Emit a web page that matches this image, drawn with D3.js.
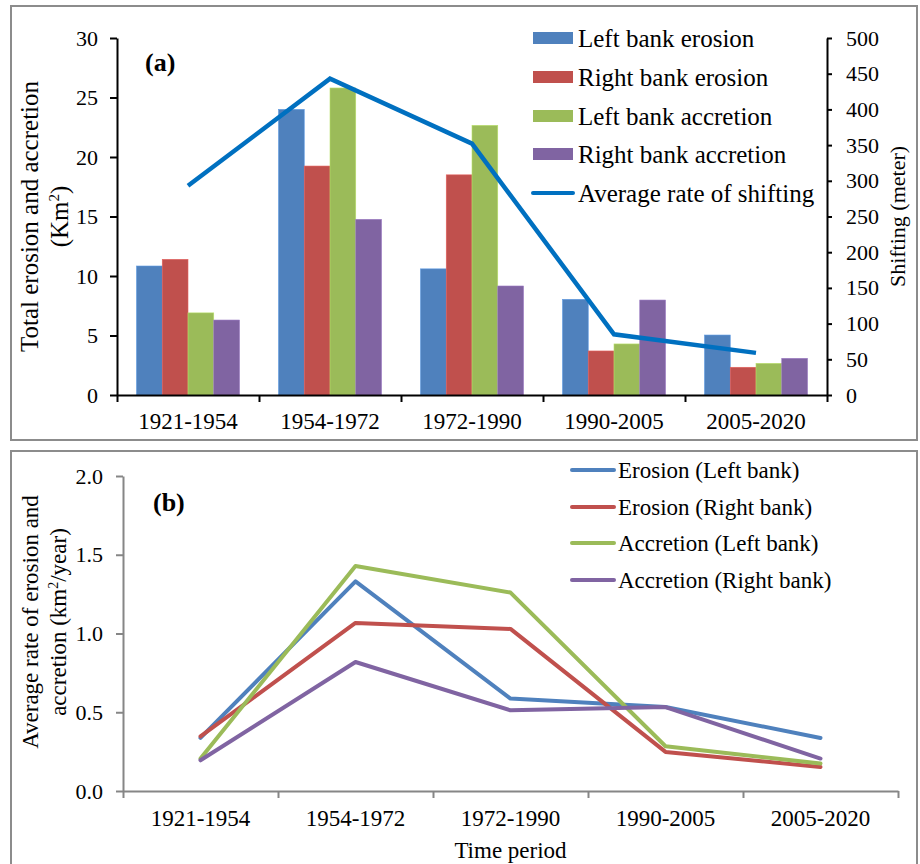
<!DOCTYPE html>
<html lang="en">
<head>
<meta charset="UTF-8">
<script src="https://d3js.org/d3.v7.min.js"></script>
<style>
    body { margin: 0; background: white; }
    svg text { font-family: "Liberation Serif", "Times New Roman", serif; fill: #000; }
</style>
</head>
<body>
<div id="chart"></div>
<script>
// time periods (both panels)
const periods = ["1921-1954", "1954-1972", "1972-1990", "1990-2005", "2005-2020"];

// panel (a): total erosion / accretion, Km²
const barSeries = ["Left bank erosion", "Right bank erosion", "Left bank accretion", "Right bank accretion"];
const leftErosion   = [10.84, 24.0, 10.6, 8.04, 5.04];
const rightErosion  = [11.4, 19.24, 18.5, 3.7, 2.33];
const leftAccretion = [6.9, 25.8, 22.66, 4.29, 2.66];
const rightAccretion = [6.3, 14.76, 9.16, 7.98, 3.08];
// average rate of shifting, meter (right axis)
const shifting = [293, 443, 352, 85, 59];

// panel (b): average rate, km²/year
const lineSeries = ["Erosion (Left bank)", "Erosion (Right bank)", "Accretion (Left bank)", "Accretion (Right bank)"];
const rateErosionLeft = [0.337, 1.331, 0.587, 0.533, 0.337];
const rateErosionRight = [0.347, 1.067, 1.029, 0.248, 0.152];
const rateAccretionLeft = [0.206, 1.429, 1.26, 0.284, 0.174];
const rateAccretionRight = [0.195, 0.819, 0.512, 0.533, 0.206];

const leftTicks = [0, 5, 10, 15, 20, 25, 30];
const rightTicks = [0, 50, 100, 150, 200, 250, 300, 350, 400, 450, 500];
const rateTicks = [0, 0.5, 1.0, 1.5, 2.0];

const colors = ["#4F81BD", "#C0504D", "#9BBB59", "#8064A2"];
const shiftColor = "#0070C0";

const W = 920, H = 864;
const svg = d3.select("#chart").append("svg").attr("width", W).attr("height", H);

// panel frames
svg.append("rect").attr("x", 11).attr("y", 6).attr("width", 906).attr("height", 434)
    .attr("fill", "none").attr("stroke", "#8c8c8c").attr("stroke-width", 2);
svg.append("rect").attr("x", 11).attr("y", 451).attr("width", 906).attr("height", 430)
    .attr("fill", "none").attr("stroke", "#8c8c8c").attr("stroke-width", 2);

// ---------- panel (a) ----------
const a = { left: 117, right: 827, top: 38, bottom: 395 };
const xa = d3.scaleBand().domain(periods).range([a.left, a.right]);
const xaIdx = d3.scaleLinear().domain([0, periods.length]).range([a.left, a.right]);
const ya = d3.scaleLinear().domain([0, 30]).range([a.bottom, a.top]);
const yaR = d3.scaleLinear().domain([0, 500]).range([a.bottom, a.top]);
const xSub = d3.scaleBand().domain(barSeries).range([0, xa.bandwidth()]).paddingOuter(0.757);

const barData = [leftErosion, rightErosion, leftAccretion, rightAccretion];
const ga = svg.append("g");

barData.forEach((vals, s) => {
    ga.selectAll(null).data(vals).join("rect")
        .attr("x", (d, i) => xa(periods[i]) + xSub(barSeries[s]))
        .attr("y", d => ya(d))
        .attr("width", xSub.bandwidth())
        .attr("height", d => ya(0) - ya(d))
        .attr("fill", colors[s])
        .attr("stroke", d3.color(colors[s]).brighter(0.5))
        .attr("stroke-width", 0.6);
});

ga.append("path")
    .datum(shifting)
    .attr("fill", "none")
    .attr("stroke", shiftColor)
    .attr("stroke-width", 4.5)
    .attr("d", d3.line().x((d, i) => xa(periods[i]) + xa.bandwidth() / 2).y(d => yaR(d)));

function styleAxis(g, color, width, fontSize) {
    g.selectAll(".domain, line").attr("stroke", color).attr("stroke-width", width);
    g.selectAll("text").style("font-size", fontSize + "px")
        .style("font-family", "'Liberation Serif', serif").attr("fill", "#000");
}

ga.append("g").attr("transform", `translate(${a.left},0)`)
    .call(d3.axisLeft(ya).tickValues(leftTicks).tickSize(7).tickPadding(12).tickSizeOuter(0))
    .call(g => styleAxis(g, "#000", 2, 22));
ga.append("g").attr("transform", `translate(${a.right},0)`)
    .call(d3.axisRight(yaR).tickValues(rightTicks).tickSize(5).tickPadding(14).tickSizeOuter(0))
    .call(g => styleAxis(g, "#000", 2, 22));
ga.append("g").attr("transform", `translate(0,${a.bottom})`)
    .call(d3.axisBottom(xaIdx).tickValues(d3.range(periods.length + 1)).tickFormat("").tickSize(7).tickSizeOuter(0))
    .call(g => styleAxis(g, "#000", 2, 22));
ga.append("g").attr("transform", `translate(0,${a.bottom})`)
    .call(d3.axisBottom(xa).tickSize(0).tickPadding(18))
    .call(g => g.select(".domain").remove())
    .call(g => styleAxis(g, "#000", 2, 23));

// titles (a)
const ta = ga.append("text").attr("transform", `translate(38,${(a.top + a.bottom) / 2}) rotate(-90)`)
    .attr("text-anchor", "middle").style("font-size", "25px");
ta.append("tspan").attr("x", 0).attr("dy", 0).text("Total erosion and accretion");
const ta2 = ta.append("tspan").attr("x", 0).attr("dy", 29.5).text("(Km");
ta2.append("tspan").attr("font-size", "15px").attr("dy", -9).text("2");
ta.append("tspan").attr("dy", 9).text(")");

ga.append("text").attr("transform", `translate(905,${(a.top + a.bottom) / 2}) rotate(-90)`)
    .attr("text-anchor", "middle").style("font-size", "22px").text("Shifting (meter)");

ga.append("text").attr("x", 145).attr("y", 71).style("font-size", "26px")
    .style("font-weight", "bold").text("(a)");

// legend (a)
const legA = ga.append("g").attr("transform", "translate(533,0)");
const legRowsA = [38, 77, 116, 154, 193];
barSeries.forEach((name, i) => {
    legA.append("rect").attr("x", 0).attr("y", legRowsA[i] - 6).attr("width", 40).attr("height", 12)
        .attr("fill", colors[i]);
    legA.append("text").attr("x", 45).attr("y", legRowsA[i]).attr("dy", "0.34em")
        .style("font-size", "25px").text(name);
});
legA.append("line").attr("x1", 0).attr("x2", 40).attr("y1", legRowsA[4]).attr("y2", legRowsA[4])
    .attr("stroke", shiftColor).attr("stroke-width", 4).attr("stroke-linecap", "round");
legA.append("text").attr("x", 45).attr("y", legRowsA[4]).attr("dy", "0.34em")
    .style("font-size", "25px").text("Average rate of shifting");

// ---------- panel (b) ----------
const b = { left: 123, right: 898, top: 476, bottom: 791 };
const xb = d3.scaleBand().domain(periods).range([b.left, b.right]);
const xbIdx = d3.scaleLinear().domain([0, periods.length]).range([b.left, b.right]);
const yb = d3.scaleLinear().domain([0, 2]).range([b.bottom, b.top]);
const gb = svg.append("g");
const axisGray = "#868686";

gb.append("g").attr("transform", `translate(${b.left},0)`)
    .call(d3.axisLeft(yb).tickValues(rateTicks).tickFormat(d3.format(".1f")).tickSize(7).tickPadding(13).tickSizeOuter(0))
    .call(g => styleAxis(g, axisGray, 2, 22));
gb.append("g").attr("transform", `translate(0,${b.bottom})`)
    .call(d3.axisBottom(xbIdx).tickValues(d3.range(periods.length + 1)).tickFormat("").tickSize(7).tickSizeOuter(0))
    .call(g => styleAxis(g, axisGray, 2, 22));
gb.append("g").attr("transform", `translate(0,${b.bottom})`)
    .call(d3.axisBottom(xb).tickSize(0).tickPadding(19))
    .call(g => g.select(".domain").remove())
    .call(g => styleAxis(g, axisGray, 2, 23));

const rateData = [rateErosionLeft, rateErosionRight, rateAccretionLeft, rateAccretionRight];
const lineB = d3.line().x((d, i) => xb(periods[i]) + xb.bandwidth() / 2).y(d => yb(d));
rateData.forEach((vals, s) => {
    gb.append("path").datum(vals)
        .attr("fill", "none").attr("stroke", colors[s]).attr("stroke-width", 4)
        .attr("stroke-linecap", "round").attr("stroke-linejoin", "round")
        .attr("d", lineB);
});

// titles (b)
const tb = gb.append("text").attr("transform", `translate(38,622) rotate(-90)`)
    .attr("text-anchor", "middle").style("font-size", "23px");
tb.append("tspan").attr("x", 0).attr("dy", 0).text("Average rate of erosion and");
const tb2 = tb.append("tspan").attr("x", 0).attr("dy", 28).text("accretion (km");
tb2.append("tspan").attr("font-size", "14px").attr("dy", -8).text("2");
tb.append("tspan").attr("dy", 8).text("/year)");

gb.append("text").attr("x", (b.left + b.right) / 2).attr("y", 858).attr("text-anchor", "middle")
    .style("font-size", "23px").text("Time period");

gb.append("text").attr("x", 153).attr("y", 511).style("font-size", "26px")
    .style("font-weight", "bold").text("(b)");

// legend (b)
const legB = gb.append("g").attr("transform", "translate(572,0)");
const legRowsB = [470, 507, 543, 580];
lineSeries.forEach((name, i) => {
    legB.append("line").attr("x1", 0).attr("x2", 42).attr("y1", legRowsB[i]).attr("y2", legRowsB[i])
        .attr("stroke", colors[i]).attr("stroke-width", 4).attr("stroke-linecap", "round");
    legB.append("text").attr("x", 46).attr("y", legRowsB[i]).attr("dy", "0.34em")
        .style("font-size", "23px").text(name);
});
</script>
</body>
</html>
